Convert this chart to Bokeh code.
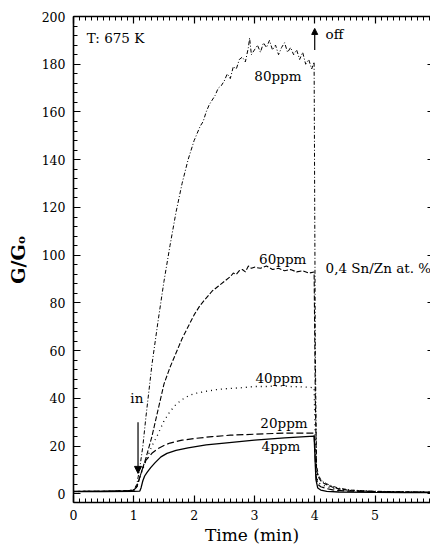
from bokeh.plotting import figure
from bokeh.models import (Range1d, LinearAxis, SingleIntervalTicker, Label, Arrow,
                          NormalHead, CustomJSTickFormatter)
from bokeh.embed import file_html
from bokeh.resources import INLINE

# ---------------- data ----------------
x_80 = [0, 0.5, 0.9, 1.0, 1.05, 1.1, 1.15, 1.2, 1.3, 1.4, 1.5, 1.6, 1.7, 1.8, 1.9, 2.0,
        2.05, 2.1, 2.15, 2.2, 2.25, 2.3, 2.35, 2.4, 2.45, 2.5, 2.55, 2.6, 2.65, 2.7, 2.75,
        2.8, 2.85, 2.9, 2.92, 2.95, 3.0, 3.05, 3.1, 3.15, 3.2, 3.25, 3.3, 3.35, 3.4, 3.45,
        3.5, 3.55, 3.6, 3.65, 3.7, 3.75, 3.8, 3.85, 3.9, 3.95, 3.99, 4.01, 4.03, 4.06, 4.1,
        4.15, 4.2, 4.3, 4.4, 4.6, 5.0, 5.5, 5.92]
y_80 = [1.0, 1.1, 1.3, 1.8, 4, 11, 20, 32, 54, 72, 89, 104, 118, 130, 140, 148,
        151, 154, 156, 160, 163, 165, 167, 170, 171, 173, 176, 174, 179, 178, 182,
        183, 181, 187, 191, 184, 186, 188, 185, 189, 187, 190, 186, 188, 184, 187,
        189, 185, 187, 184, 186, 182, 185, 180, 182, 178, 181, 60, 12, 8, 6,
        5, 4.2, 3.2, 2.4, 1.6, 1.1, 0.9, 0.8]

x_60 = [0, 0.5, 0.9, 1.0, 1.05, 1.1, 1.2, 1.3, 1.4, 1.5, 1.6, 1.7, 1.8, 1.9, 2.0, 2.1,
        2.2, 2.3, 2.4, 2.5, 2.6, 2.65, 2.7, 2.75, 2.8, 2.85, 2.9, 2.95, 3.0, 3.1, 3.2,
        3.3, 3.4, 3.5, 3.6, 3.7, 3.8, 3.9, 3.99, 4.01, 4.03, 4.06, 4.1, 4.15, 4.2, 4.3,
        4.4, 4.6, 5.0, 5.5, 5.92]
y_60 = [1.0, 1.1, 1.3, 1.6, 3, 7, 15, 24, 35, 46, 53, 59, 65, 70, 75, 79,
        82, 85, 87, 89, 91, 92.5, 92, 93.5, 94, 93, 95.5, 94.5, 95, 94.5, 95.5,
        94, 94.5, 93.5, 94, 93, 93.5, 92.5, 93, 40, 10, 7, 5.5, 4.5, 3.8, 2.8,
        2.1, 1.4, 1.0, 0.8, 0.7]

x_40 = [0, 0.5, 0.9, 1.0, 1.05, 1.1, 1.2, 1.3, 1.4, 1.5, 1.6, 1.7, 1.8, 1.9, 2.0, 2.2,
        2.4, 2.6, 2.8, 3.0, 3.2, 3.4, 3.6, 3.8, 3.99, 4.02, 4.05, 4.1, 4.2, 4.3, 4.5,
        5.0, 5.5, 5.92]
y_40 = [1.0, 1.1, 1.3, 1.6, 3, 7, 14, 20, 25, 30.5, 34.5, 37.5, 39.5, 41, 42, 43,
        43.8, 44.2, 44.5, 45, 45, 45.3, 45, 44.8, 44.5, 10, 5, 4, 3, 2.3, 1.6,
        1.0, 0.8, 0.7]

x_20 = [0, 0.5, 0.9, 1.0, 1.05, 1.1, 1.15, 1.2, 1.3, 1.4, 1.5, 1.6, 1.8, 2.0, 2.3, 2.6,
        3.0, 3.5, 3.99, 4.02, 4.05, 4.1, 4.2, 4.3, 4.5, 5.0, 5.5, 5.92]
y_20 = [1.0, 1.1, 1.3, 1.6, 3, 7, 11, 14, 17, 19, 20.3, 21.3, 22.5, 23.2, 24, 24.6,
        25, 25.5, 25.5, 8, 4, 3, 2.2, 1.7, 1.2, 0.9, 0.8, 0.7]

x_4 = [0, 0.5, 1.0, 1.1, 1.12, 1.15, 1.18, 1.22, 1.28, 1.35, 1.45, 1.55, 1.7, 1.9, 2.2,
       2.5, 3.0, 3.5, 3.99, 4.02, 4.05, 4.1, 4.2, 4.4, 5.0, 5.5, 5.92]
y_4 = [1.0, 1.0, 1.1, 1.2, 2.5, 5.5, 7.5, 9, 11, 13, 15.5, 17, 18.2, 19.3, 20.5,
       21.3, 22.5, 23.5, 24.2, 6, 2.5, 1.6, 1.1, 0.8, 0.6, 0.5, 0.5]

series_names = ["80ppm", "60ppm", "40ppm", "20ppm", "4ppm"]
label_x = [3.39, 3.47, 3.41, 3.49, 3.44]
label_y = [175, 98.5, 48.7, 29.9, 19.9]

x_ticks_interval = 1
y_ticks_interval = 20

FONT = "DejaVu Serif"

# ---------------- figure ----------------
p = figure(width=430, height=547, output_backend="svg", toolbar_location=None,
           x_range=Range1d(0, 5.92), y_range=Range1d(-3.6, 200),
           min_border_left=73, min_border_right=0, min_border_top=16, min_border_bottom=45,
           x_axis_location=None, y_axis_location=None)
p.outline_line_color = None
p.xgrid.visible = False
p.ygrid.visible = False
p.background_fill_color = "white"
p.border_fill_color = "white"

xt = SingleIntervalTicker(interval=x_ticks_interval, num_minor_ticks=10)
yt = SingleIntervalTicker(interval=y_ticks_interval, num_minor_ticks=5)


def style_axis(ax, labels=True, minor=True, tick_in=7, minor_in=4):
    ax.axis_line_color = "black"
    ax.axis_line_width = 1.6
    ax.major_tick_line_color = "black"
    ax.major_tick_line_width = 1.2
    ax.major_tick_in = tick_in
    ax.major_tick_out = 0
    ax.minor_tick_line_color = "black" if minor else None
    ax.minor_tick_line_width = 1
    ax.minor_tick_in = minor_in
    ax.minor_tick_out = 0
    if labels:
        ax.major_label_text_font = FONT
        ax.major_label_text_font_size = "12.5px"
        ax.major_label_text_color = "black"
        ax.axis_label_text_font = FONT
        ax.axis_label_text_color = "black"
    else:
        ax.formatter = CustomJSTickFormatter(code="return ''")
        ax.major_label_text_font_size = "0px"
        ax.major_label_standoff = 0


bottom = LinearAxis(ticker=xt, axis_label="Time (min)")
style_axis(bottom)
bottom.major_label_standoff = 7
bottom.axis_label_standoff = 2
bottom.axis_label_text_font_size = "17px"
bottom.axis_label_text_font_style = "normal"
p.add_layout(bottom, "below")

left = LinearAxis(ticker=yt, axis_label="G/G\u2092")
style_axis(left)
left.major_label_standoff = 8
left.axis_label_standoff = 10
left.axis_label_text_font_size = "19px"
left.axis_label_text_font_style = "bold"
p.add_layout(left, "left")

top = LinearAxis(ticker=xt)
style_axis(top, labels=False)
p.add_layout(top, "above")

right = LinearAxis(ticker=yt)
style_axis(right, labels=False, minor=False, tick_in=3)
right.axis_line_color = None
p.add_layout(right, "right")

# ---------------- curves ----------------
p.line(x_80, y_80, line_color="black", line_width=1.0, line_dash="4 2 1 2")
p.line(x_60, y_60, line_color="black", line_width=1.1, line_dash="5 2")
p.line(x_40, y_40, line_color="black", line_width=1.3, line_dash="1 4")
p.line(x_20, y_20, line_color="black", line_width=1.2, line_dash="7 3")
p.line(x_4, y_4, line_color="black", line_width=1.3)

for name, lx, ly in zip(series_names, label_x, label_y):
    p.add_layout(Label(x=lx, y=ly, text=name, text_font=FONT, text_font_size="13.5px",
                       text_align="center", text_baseline="middle", text_color="black"))

p.add_layout(Label(x=0.22, y=191, text="T: 675 K", text_font=FONT, text_font_size="13.5px",
                   text_align="left", text_baseline="middle", text_color="black"))
p.add_layout(Label(x=4.18, y=192.7, text="off", text_font=FONT, text_font_size="13.5px",
                   text_align="left", text_baseline="middle", text_color="black"))
p.add_layout(Label(x=4.18, y=94.8, text="0,4 Sn/Zn at. %", text_font=FONT,
                   text_font_size="13.5px", text_align="left", text_baseline="middle",
                   text_color="black"))
p.add_layout(Label(x=1.05, y=40, text="in", text_font=FONT, text_font_size="13.5px",
                   text_align="center", text_baseline="middle", text_color="black"))

p.add_layout(Arrow(end=NormalHead(size=7, fill_color="black", line_color="black"),
                   x_start=1.07, y_start=30, x_end=1.07, y_end=8.6,
                   line_color="black", line_width=1.2))
p.add_layout(Arrow(end=NormalHead(size=6, fill_color="black", line_color="black"),
                   x_start=4.0, y_start=186, x_end=4.0, y_end=195,
                   line_color="black", line_width=1.2))

open("out.html", "w").write(file_html(p, INLINE))
